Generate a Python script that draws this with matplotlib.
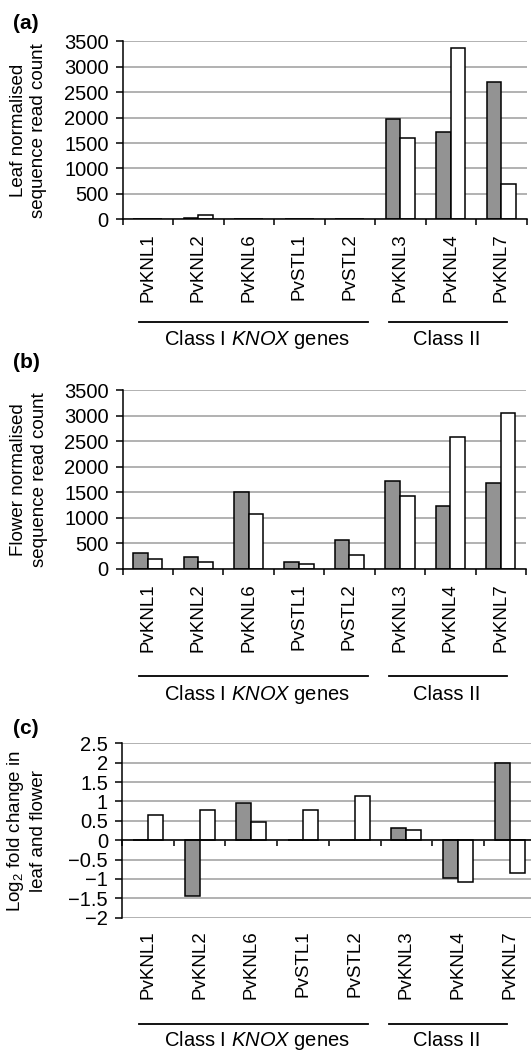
import numpy as np
import matplotlib
matplotlib.use("Agg")
import matplotlib.pyplot as plt
import matplotlib.transforms as mtransforms
from matplotlib.lines import Line2D
from matplotlib.ticker import FuncFormatter

plt.rcParams['font.family'] = ['Liberation Sans', 'DejaVu Sans']
plt.rcParams['mathtext.fontset'] = 'custom'
plt.rcParams['mathtext.rm'] = 'Liberation Sans'
plt.rcParams['mathtext.it'] = 'Liberation Sans:italic'

# ---------------------------------------------------------------
# data
# ---------------------------------------------------------------
genes = ["PvKNL1", "PvKNL2", "PvKNL6", "PvSTL1", "PvSTL2", "PvKNL3", "PvKNL4", "PvKNL7"]

leaf_grey = [5, 30, 15, 10, 0, 1975, 1715, 2690]
leaf_white = [5, 80, 10, 0, 0, 1595, 3370, 685]

flower_grey = [310, 237, 1505, 138, 560, 1710, 1237, 1690]
flower_white = [197, 138, 1080, 92, 263, 1428, 2592, 3053]

logfc_grey = [0, -1.45, 0.96, 0, 0, 0.32, -0.97, 2.0]
logfc_white = [0.66, 0.78, 0.48, 0.77, 1.13, 0.26, -1.08, -0.85]

panel_letters = ["(a)", "(b)", "(c)"]
ylabels = ["Leaf normalised\nsequence read count",
           "Flower normalised\nsequence read count",
           "Log$_2$ fold change in\nleaf and flower"]
group_labels = ["Class I $\\it{KNOX}$ genes", "Class II"]

W, H = 531, 1052
fig = plt.figure(figsize=(W / 100, H / 100), dpi=100)

GREY = "#939393"
GRID = "#a4a4a4"
BW = 0.29


def px(x, y):
    # pixel (from top-left) -> figure fraction
    return x / W, 1 - y / H


def draw_panel(rect, grey, white, ylim, yticks, ylabel, label_drop, zero_axis=False, fmt=None):
    ax = fig.add_axes(rect)
    x = np.arange(len(genes))
    ax.bar(x - BW / 2, grey, BW, color=GREY, edgecolor="black", linewidth=1.1, zorder=3)
    ax.bar(x + BW / 2, white, BW, color="white", edgecolor="black", linewidth=1.1, zorder=3)

    ax.set_xlim(-0.5, len(genes) - 0.5)
    ax.set_ylim(*ylim)
    ax.set_yticks(yticks)
    if fmt is not None:
        ax.yaxis.set_major_formatter(FuncFormatter(fmt))
    ax.yaxis.grid(True, color=GRID, linewidth=1.2, zorder=0)
    ax.set_axisbelow(True)

    for s in ["top", "right"]:
        ax.spines[s].set_visible(False)
    for s in ["left", "bottom"]:
        ax.spines[s].set_linewidth(1.1)
        ax.spines[s].set_zorder(4)
    if zero_axis:
        ax.spines["bottom"].set_position(("data", 0))

    ax.set_xticks(np.arange(len(genes) + 1) - 0.5)
    ax.set_xticklabels([])
    ax.tick_params(axis="x", direction="out", length=4.5, width=1.1)
    ax.tick_params(axis="y", direction="out", length=5, width=1.1, pad=5, labelsize=14.5)

    trans = mtransforms.blended_transform_factory(ax.transData, ax.transAxes)
    trans = mtransforms.offset_copy(trans, fig=fig, y=-label_drop, units="dots")
    for i, g in enumerate(genes):
        ax.text(i, 0, g, transform=trans, rotation=90, ha="center", va="top", fontsize=13.5)

    ax.text(-0.232, 0.5, ylabel, transform=ax.transAxes, rotation=90, ha="center",
            va="center", fontsize=13.5, multialignment="center", linespacing=1.25)
    return ax


def minus_fmt(v, pos):
    return ("%g" % v).replace("-", "\u2212")


# panel rectangles (figure fraction)
rect_a = [122.5 / W, 1 - 219.3 / H, 404 / W, 178 / H]
rect_b = [122.5 / W, 1 - 568.7 / H, 403.5 / W, 178.5 / H]
rect_c = [122 / W, 1 - 917.7 / H, 413.6 / W, 174.4 / H]

draw_panel(rect_a, leaf_grey, leaf_white, (0, 3500), np.arange(0, 3501, 500), ylabels[0], 14)
draw_panel(rect_b, flower_grey, flower_white, (0, 3500), np.arange(0, 3501, 500), ylabels[1], 14.5)
draw_panel(rect_c, logfc_grey, logfc_white, (-2, 2.5), np.arange(-2, 2.51, 0.5), ylabels[2], 12.5,
           zero_axis=True, fmt=minus_fmt)

# panel letters
for letter, ypx in zip(panel_letters, [23.3, 363, 728]):
    fx, fy = px(12.5, ypx)
    fig.text(fx, fy, letter, fontsize=15, fontweight="bold", ha="left", va="center")

# group brackets under the gene names
for line_y, text_y in [(321.7, 339), (676.4, 694.2), (1023.5, 1041)]:
    for (x0, x1, xc), lab in zip([(138.5, 368.2, 257), (388.5, 506.8, 446.6)], group_labels):
        fig.add_artist(Line2D([x0 / W, x1 / W], [1 - line_y / H] * 2, color="black",
                              linewidth=1.3, transform=fig.transFigure))
        fx, fy = px(xc, text_y)
        fig.text(fx, fy, lab, fontsize=14.5, ha="center", va="center")

fig.savefig("out.png", dpi=100)
